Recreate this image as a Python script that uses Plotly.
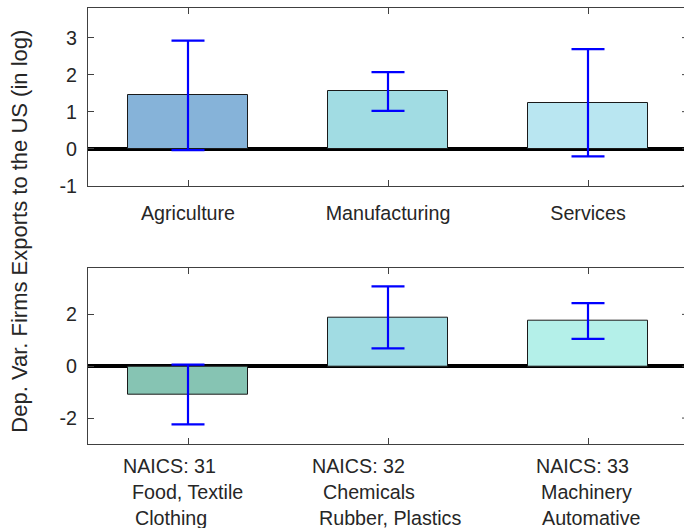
import plotly.graph_objects as go

# Regression coefficients by broad sector (top panel)
sectors = ["Agriculture", "Manufacturing", "Services"]
sector_coef = [1.44, 1.545, 1.24]
sector_err = [1.48, 0.525, 1.45]
sector_colors = ["#86B3D9", "#A1DCE3", "#B9E6F1"]

# Regression coefficients by manufacturing NAICS code (bottom panel)
naics_codes = ["NAICS: 31", "NAICS: 32", "NAICS: 33"]
naics_desc1 = ["Food, Textile", "Chemicals", "Machinery"]
naics_desc2 = ["Clothing", "Rubber, Plastics", "Automative"]
naics_coef = [-1.09, 1.885, 1.745]
naics_err = [1.15, 1.195, 0.69]
naics_colors = ["#86C4B3", "#A1DCE3", "#B4F0E9"]

top_ticks = [-1, 0, 1, 2, 3]
bottom_ticks = [-2, 0, 2]

FONT = "Liberation Sans, Arial, Helvetica, sans-serif"
TXT = "#262626"
AX = "#404040"
FS = 19.7

W, H = 684, 528
ML, MR, MT, MB = 88, 0, 8, 84
plot_h = H - MT - MB
plot_w = W - ML - MR


def py(px):
    """pixel row -> paper y"""
    return (H - MB - px) / plot_h


def px_x(px):
    """pixel column -> paper x"""
    return (px - ML) / plot_w


pos = [1, 2, 3]

fig = go.Figure()

err_style = dict(type="data", color="#0000FF", thickness=2.2, width=16.5)

fig.add_trace(go.Bar(
    x=pos, y=sector_coef, width=0.6,
    marker=dict(color=sector_colors, line=dict(color="#1a1a1a", width=1)),
    error_y=dict(array=sector_err, **err_style),
    xaxis="x", yaxis="y", showlegend=False,
))
fig.add_trace(go.Bar(
    x=pos, y=naics_coef, width=0.6,
    marker=dict(color=naics_colors, line=dict(color="#1a1a1a", width=1)),
    error_y=dict(array=naics_err, **err_style),
    xaxis="x2", yaxis="y2", showlegend=False,
))

axis_common = dict(
    showline=True, linecolor=AX, linewidth=1,
    ticks="inside", ticklen=6, tickwidth=1, tickcolor=AX,
    showgrid=False,
    tickfont=dict(family=FONT, size=FS, color=TXT),
)

fig.update_layout(
    width=W, height=H,
    margin=dict(l=ML, r=MR, t=MT, b=MB),
    paper_bgcolor="white", plot_bgcolor="white",
    font=dict(family=FONT, size=FS, color=TXT),
    xaxis=dict(domain=[0, 1], range=[0.5, 3.48], anchor="y", mirror="ticks",
               tickvals=pos, ticktext=sectors, zeroline=False,
               ticklabelstandoff=10, **axis_common),
    yaxis=dict(domain=[py(185.7), 1], range=[-1, 3.8], anchor="x",
               tickvals=top_ticks, ticktext=[str(v) for v in top_ticks],
               zeroline=True, zerolinecolor="black", zerolinewidth=3.5,
               ticklabelstandoff=6, **axis_common),
    xaxis2=dict(domain=[0, 1], range=[0.5, 3.48], anchor="y2", mirror="ticks",
                tickvals=pos, showticklabels=False, zeroline=False,
                **axis_common),
    yaxis2=dict(domain=[0, py(267.7)], range=[-3, 3.8], anchor="x2",
                tickvals=bottom_ticks, ticktext=[str(v) for v in bottom_ticks],
                zeroline=True, zerolinecolor="black", zerolinewidth=3.5,
                ticklabelstandoff=6, **axis_common),
    bargap=0,
)

# Right-hand tick stubs (the right frame edge lies just past the page edge)
for yref, ticks in (("y", top_ticks), ("y2", bottom_ticks)):
    for v in ticks:
        fig.add_shape(type="line", xref="paper", yref=yref,
                      x0=px_x(682), x1=1.0, y0=v, y1=v,
                      line=dict(color=AX, width=1))

# Multi-line category labels under the bottom panel
line_rows = [465.7, 492.3, 517.8]
line_shifts = [
    [-18.3, -0.8, -17.0],
    [-29.5, -18.6, 2.0],
    [-5.1, -1.3, 3.0],
]
for i, k in enumerate(pos):
    for j, txt in enumerate([naics_codes[i], naics_desc1[i], naics_desc2[i]]):
        fig.add_annotation(
            x=k, xref="x2", y=py(line_rows[j]), yref="paper",
            text=txt, showarrow=False, xanchor="center", yanchor="middle",
            xshift=line_shifts[i][j],
            font=dict(family=FONT, size=FS, color=TXT),
        )

fig.add_annotation(
    x=px_x(20), xref="paper", y=py(231.7), yref="paper",
    text="Dep. Var. Firms Exports to the US (in log)", textangle=-90,
    showarrow=False, xanchor="center", yanchor="middle",
    font=dict(family=FONT, size=22, color=TXT),
)

fig.write_html("out.html")
